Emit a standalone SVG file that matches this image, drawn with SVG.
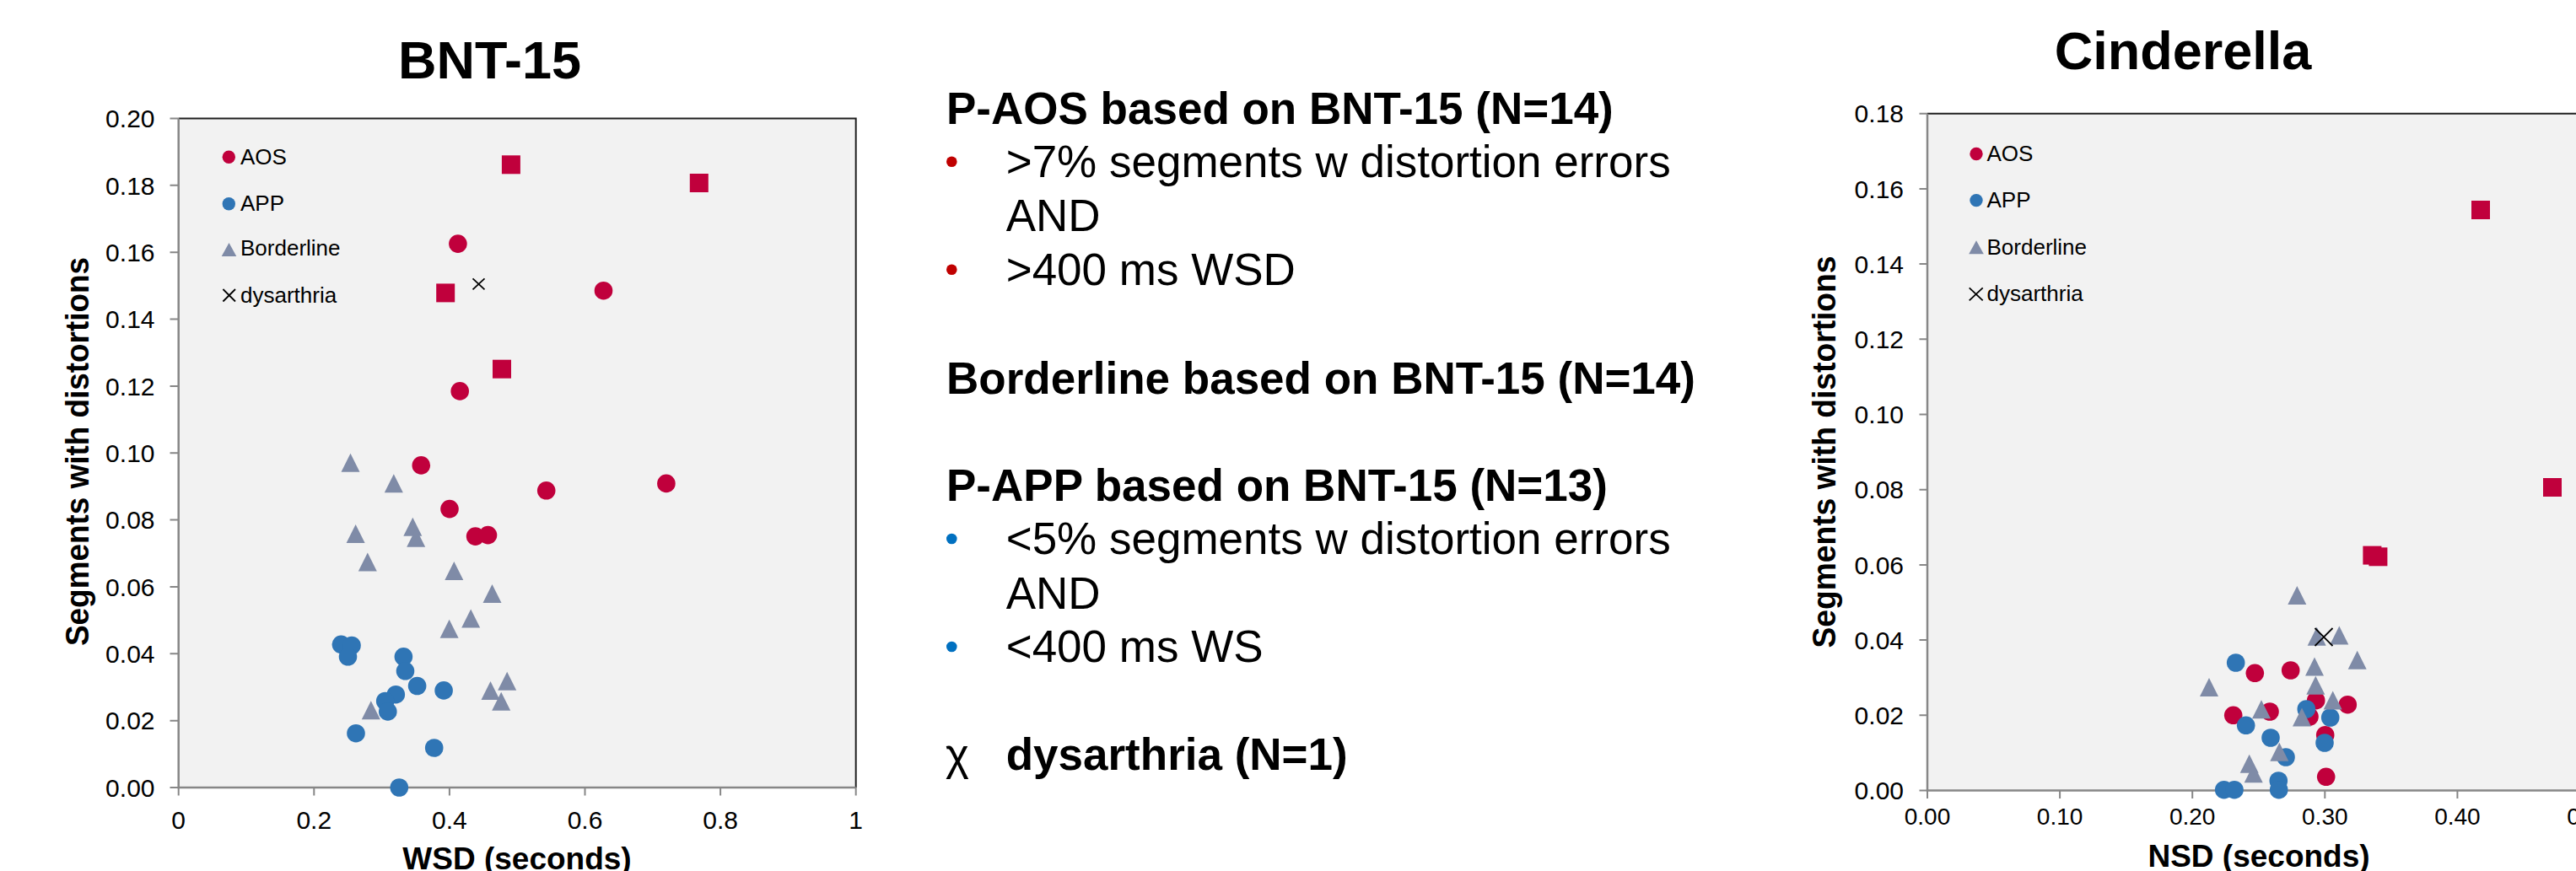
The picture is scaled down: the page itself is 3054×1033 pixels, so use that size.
<svg xmlns="http://www.w3.org/2000/svg" xmlns:xlink="http://www.w3.org/1999/xlink" width="3054" height="1033" viewBox="0 0 3054 1033">
<style>
text{font-family:"Liberation Sans",Arial,sans-serif;fill:#000}
.title{font-size:63px;font-weight:bold;text-anchor:middle}
.axt{font-size:37px;font-weight:bold;text-anchor:middle}
.tky{font-size:30px;text-anchor:end}
.tkx{font-size:30px;text-anchor:middle}
.tkx2{font-size:28px;text-anchor:middle}
.leg{font-size:26px}
.hd{font-size:53px;font-weight:bold}
.bd{font-size:53px}
.plot{fill:#F2F2F2;stroke:none}
.border{stroke:#1E1E1E;stroke-width:2;fill:none}
.axis{stroke:#878787;stroke-width:2.5;fill:none}
.tick{stroke:#878787;stroke-width:2}
.aos{fill:#C0003C}
.app{fill:#2F75B5}
.bdl{fill:#7F8BA7}
.dys{stroke:#000;stroke-width:1.8;fill:none}
</style>
<defs>
<circle id="dot" r="10.8"/>
<rect id="sq" x="-11" y="-11" width="22" height="22"/>
<path id="tri" d="M0,-11 L11,11 L-11,11 Z"/>
<circle id="ldot" r="7.7"/>
<path id="ltri" d="M0,-8 L8.8,8 L-8.8,8 Z"/>
</defs>

<!-- ================= LEFT CHART: BNT-15 ================= -->
<g id="chart-bnt15">
<text class="title" x="580.5" y="93">BNT-15</text>
<rect class="plot" x="211.7" y="140.5" width="803" height="793.5"/>
<path class="border" d="M211.7,140.5 H1014.7 V934"/>
<g class="ticks">
<path class="tick" d="M201.5,934H211.7M201.5,854.65H211.7M201.5,775.3H211.7M201.5,695.95H211.7M201.5,616.6H211.7M201.5,537.25H211.7M201.5,457.9H211.7M201.5,378.55H211.7M201.5,299.2H211.7M201.5,219.85H211.7M201.5,140.5H211.7"/>
<path class="tick" d="M211.7,934V943.5M372.3,934V943.5M532.9,934V943.5M693.5,934V943.5M854.1,934V943.5M1014.7,934V943.5"/>
</g>
<path class="axis" d="M211.7,140.5 V934 H1014.7"/>
<g id="bnt-ylabels">
<text class="tky" x="183.5" y="944.7">0.00</text>
<text class="tky" x="183.5" y="865.35">0.02</text>
<text class="tky" x="183.5" y="786">0.04</text>
<text class="tky" x="183.5" y="706.65">0.06</text>
<text class="tky" x="183.5" y="627.3">0.08</text>
<text class="tky" x="183.5" y="547.95">0.10</text>
<text class="tky" x="183.5" y="468.6">0.12</text>
<text class="tky" x="183.5" y="389.25">0.14</text>
<text class="tky" x="183.5" y="309.9">0.16</text>
<text class="tky" x="183.5" y="230.55">0.18</text>
<text class="tky" x="183.5" y="151.2">0.20</text>
</g>
<g id="bnt-xlabels">
<text class="tkx" x="211.7" y="983">0</text>
<text class="tkx" x="372.3" y="983">0.2</text>
<text class="tkx" x="532.9" y="983">0.4</text>
<text class="tkx" x="693.5" y="983">0.6</text>
<text class="tkx" x="854.1" y="983">0.8</text>
<text class="tkx" x="1014.7" y="983">1</text>
</g>
<text class="axt" x="613" y="1031">WSD (seconds)</text>
<text class="axt" transform="translate(105,535.5) rotate(-90)" x="0" y="0" style="font-size:38px" textLength="461" lengthAdjust="spacingAndGlyphs">Segments with distortions</text>

<g id="bnt-legend">
<use href="#ldot" class="aos" x="271.3" y="186.3"/>
<text class="leg" x="285" y="195">AOS</text>
<use href="#ldot" class="app" x="271.3" y="241.7"/>
<text class="leg" x="285" y="250">APP</text>
<use href="#ltri" class="bdl" x="271.5" y="296"/>
<text class="leg" x="285" y="303.3">Borderline</text>
<path class="dys" d="M264.4,343 L279,357.5 M279,343 L264.4,357.5"/>
<text class="leg" x="285" y="359">dysarthria</text>
</g>

<g id="bnt-borderline" class="bdl">
<use href="#tri" x="415.5" y="548.7"/>
<use href="#tri" x="466.8" y="573.2"/>
<use href="#tri" x="489.3" y="624.8"/>
<use href="#tri" x="421.6" y="632.9"/>
<use href="#tri" x="493.2" y="637.7"/>
<use href="#tri" x="435.8" y="666.5"/>
<use href="#tri" x="538.3" y="676.9"/>
<use href="#tri" x="583.5" y="703.9"/>
<use href="#tri" x="558.2" y="733.5"/>
<use href="#tri" x="532.6" y="745.8"/>
<use href="#tri" x="601.2" y="807.7"/>
<use href="#tri" x="581.5" y="818.9"/>
<use href="#tri" x="594.2" y="831.7"/>
<use href="#tri" x="439.8" y="842.2"/>
</g>
<g id="bnt-aos" class="aos">
<use href="#dot" x="542.9" y="289.1"/>
<use href="#dot" x="715.5" y="344.7"/>
<use href="#dot" x="545.2" y="463.9"/>
<use href="#dot" x="499.3" y="551.9"/>
<use href="#dot" x="789.9" y="573.4"/>
<use href="#dot" x="647.7" y="581.8"/>
<use href="#dot" x="533" y="603.6"/>
<use href="#dot" x="563.6" y="636.1"/>
<use href="#dot" x="578.5" y="634.6"/>
<use href="#sq" x="605.9" y="195.3"/>
<use href="#sq" x="828.8" y="217"/>
<use href="#sq" x="528.2" y="347.4"/>
<use href="#sq" x="595" y="437.7"/>
</g>
<g id="bnt-app" class="app">
<use href="#dot" x="404.4" y="764.3"/>
<use href="#dot" x="417" y="765.5"/>
<use href="#dot" x="412.5" y="778.8"/>
<use href="#dot" x="478.4" y="778.8"/>
<use href="#dot" x="480.5" y="795.8"/>
<use href="#dot" x="494.6" y="813.5"/>
<use href="#dot" x="526.1" y="818.9"/>
<use href="#dot" x="469.3" y="823.7"/>
<use href="#dot" x="456.7" y="831.5"/>
<use href="#dot" x="459.8" y="843.9"/>
<use href="#dot" x="422" y="869.7"/>
<use href="#dot" x="514.7" y="887"/>
<use href="#dot" x="473.3" y="934"/>
</g>
<path id="bnt-dys" class="dys" d="M560.5,330.4 L574.5,343.4 M574.5,330.4 L560.5,343.4"/>
</g>

<!-- ================= MIDDLE TEXT ================= -->
<g id="criteria-text">
<g id="paos">
<text class="hd" x="1122" y="146.5">P-AOS based on BNT-15 (N=14)</text>
<circle cx="1128.3" cy="191.7" r="6.3" fill="#C00000"/>
<text class="bd" x="1192.7" y="210">&gt;7% segments w distortion errors</text>
<text class="bd" x="1192.7" y="274">AND</text>
<circle cx="1128.3" cy="319.7" r="6.3" fill="#C00000"/>
<text class="bd" x="1192.7" y="338.3">&gt;400 ms WSD</text>
</g>
<g id="borderline">
<text class="hd" x="1122" y="466.5">Borderline based on BNT-15 (N=14)</text>
</g>
<g id="papp">
<text class="hd" x="1122" y="594">P-APP based on BNT-15 (N=13)</text>
<circle cx="1128.3" cy="639" r="6.3" fill="#0070C0"/>
<text class="bd" x="1192.7" y="657.3">&lt;5% segments w distortion errors</text>
<text class="bd" x="1192.7" y="721.7">AND</text>
<circle cx="1128.3" cy="767" r="6.3" fill="#0070C0"/>
<text class="bd" x="1192.7" y="785">&lt;400 ms WS</text>
</g>
<g id="dysarthria">
<text class="bd" x="1121" y="913">χ</text>
<text class="hd" x="1192.7" y="913">dysarthria (N=1)</text>
</g>
</g>

<!-- ================= RIGHT CHART: Cinderella ================= -->
<g id="chart-cinderella">
<text class="title" x="2588" y="82">Cinderella</text>
<rect class="plot" x="2285" y="134.7" width="820" height="802.8"/>
<path class="border" d="M2285,134.7 H3100"/>
<g class="ticks">
<path class="tick" d="M2275.5,937.5H2285M2275.5,848.3H2285M2275.5,759.1H2285M2275.5,669.9H2285M2275.5,580.7H2285M2275.5,491.5H2285M2275.5,402.3H2285M2275.5,313.1H2285M2275.5,223.9H2285M2275.5,134.7H2285"/>
<path class="tick" d="M2285,937.5V947M2442.1,937.5V947M2599.2,937.5V947M2756.3,937.5V947M2913.4,937.5V947M3070.5,937.5V947"/>
</g>
<path class="axis" d="M2285,134.7 V937.5 H3100"/>
<g id="cin-ylabels">
<text class="tky" x="2257" y="948.2">0.00</text>
<text class="tky" x="2257" y="859">0.02</text>
<text class="tky" x="2257" y="769.8">0.04</text>
<text class="tky" x="2257" y="680.6">0.06</text>
<text class="tky" x="2257" y="591.4">0.08</text>
<text class="tky" x="2257" y="502.2">0.10</text>
<text class="tky" x="2257" y="413">0.12</text>
<text class="tky" x="2257" y="323.8">0.14</text>
<text class="tky" x="2257" y="234.6">0.16</text>
<text class="tky" x="2257" y="145.4">0.18</text>
</g>
<g id="cin-xlabels">
<text class="tkx2" x="2285" y="977.5">0.00</text>
<text class="tkx2" x="2442.1" y="977.5">0.10</text>
<text class="tkx2" x="2599.2" y="977.5">0.20</text>
<text class="tkx2" x="2756.3" y="977.5">0.30</text>
<text class="tkx2" x="2913.4" y="977.5">0.40</text>
<text class="tkx2" x="3070.5" y="977.5">0.50</text>
</g>
<text class="axt" x="2678" y="1028">NSD (seconds)</text>
<text class="axt" transform="translate(2176,536) rotate(-90)" x="0" y="0" style="font-size:38px" textLength="465" lengthAdjust="spacingAndGlyphs">Segments with distortions</text>

<g id="cin-legend">
<use href="#ldot" class="aos" x="2343" y="182.5"/>
<text class="leg" x="2355.5" y="190.5">AOS</text>
<use href="#ldot" class="app" x="2343" y="237.6"/>
<text class="leg" x="2355.5" y="245.6">APP</text>
<use href="#ltri" class="bdl" x="2343" y="293.2"/>
<text class="leg" x="2355.5" y="302">Borderline</text>
<path class="dys" d="M2334.7,341.3 L2350.7,356.3 M2350.7,341.3 L2334.7,356.3"/>
<text class="leg" x="2355.5" y="356.5">dysarthria</text>
</g>

<g id="cin-aos" class="aos">
<use href="#dot" x="2673.3" y="798.3"/>
<use href="#dot" x="2715.7" y="795"/>
<use href="#dot" x="2745.7" y="830.7"/>
<use href="#dot" x="2783.3" y="835.7"/>
<use href="#dot" x="2647.7" y="848.3"/>
<use href="#dot" x="2691" y="844"/>
<use href="#dot" x="2738" y="850"/>
<use href="#dot" x="2756.7" y="871.7"/>
<use href="#dot" x="2757.7" y="921.3"/>
<use href="#sq" x="2941" y="249"/>
<use href="#sq" x="3026" y="578"/>
<use href="#sq" x="2812.4" y="658.6"/>
<use href="#sq" x="2819.4" y="660.3"/>
</g>
<g id="cin-app" class="app">
<use href="#dot" x="2650.7" y="786"/>
<use href="#dot" x="2734.3" y="841"/>
<use href="#dot" x="2762.7" y="851"/>
<use href="#dot" x="2662.7" y="860.3"/>
<use href="#dot" x="2692" y="875"/>
<use href="#dot" x="2756" y="881"/>
<use href="#dot" x="2710" y="898"/>
<use href="#dot" x="2701.3" y="926"/>
<use href="#dot" x="2636.7" y="936.7"/>
<use href="#dot" x="2649" y="936.7"/>
<use href="#dot" x="2701.7" y="936.7"/>
</g>
<g id="cin-borderline" class="bdl">
<use href="#tri" x="2723.3" y="706"/>
<use href="#tri" x="2746.7" y="754.7"/>
<use href="#tri" x="2773.3" y="753.5"/>
<use href="#tri" x="2794.7" y="782.8"/>
<use href="#tri" x="2744" y="790.5"/>
<use href="#tri" x="2619" y="815"/>
<use href="#tri" x="2745.3" y="812.8"/>
<use href="#tri" x="2765.7" y="830.5"/>
<use href="#tri" x="2681" y="841.2"/>
<use href="#tri" x="2729" y="850.5"/>
<use href="#tri" x="2702.3" y="891.7"/>
<use href="#tri" x="2666.7" y="905.8"/>
<use href="#tri" x="2671.7" y="917.2"/>
</g>
<path id="cin-dys" class="dys" d="M2744.5,745 L2765.5,766 M2765.5,745 L2744.5,766"/>
</g>
</svg>
